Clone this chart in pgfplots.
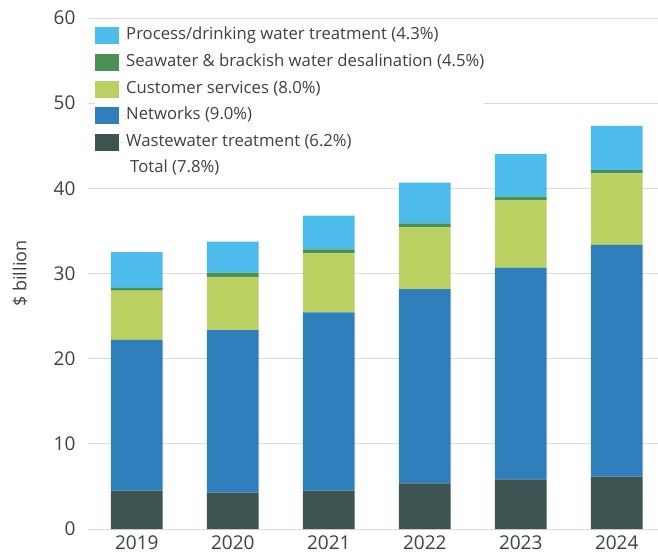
\documentclass[border=0pt]{standalone}
\usepackage{pgfplots}
\pgfplotsset{compat=1.18}
\usepackage{fontspec}
\setmainfont{Open Sans}
\definecolor{cproc}{HTML}{4DBBEB}
\definecolor{cdesal}{HTML}{4A9155}
\definecolor{ccust}{HTML}{BBD062}
\definecolor{cnet}{HTML}{2F7FBC}
\definecolor{cww}{HTML}{3E5452}
\definecolor{ctext}{HTML}{404040}
\definecolor{cgrid}{HTML}{DADADA}
\begin{document}
\begin{tikzpicture}
\begin{axis}[
  scale only axis,
  width=570pt, height=511pt,
  xmin=-0.508, xmax=5.43,
  ymin=0, ymax=60,
  ytick={0,10,20,30,40,50,60},
  xtick={0,1,2,3,4,5},
  xticklabels={2019,2020,2021,2022,2023,2024},
  ybar stacked, bar width=0.54,
  axis line style={draw=none},
  major tick length=0pt,
  ymajorgrids, grid style={cgrid, line width=0.8pt},
  /pgf/number format/assume math mode=true,
  ticklabel style={font=\fontsize{19}{22}\selectfont, text=ctext},
  yticklabel style={xshift=-9pt},
  xticklabel style={yshift=-3pt},
  ylabel={\$ billion},
  ylabel style={at={(rel axis cs:0,0.5)}, anchor=center, yshift=68pt, font=\fontsize{18}{22}\selectfont, text=ctext},
  reverse legend,
  legend cell align=left,
  legend style={at={(rel axis cs:0,1)}, anchor=north west, xshift=7pt, yshift=-9pt,
    draw=none, fill=white, inner sep=0pt, row sep=9.7pt,
    font=\fontsize{16.7}{20}\selectfont, text=ctext,
    nodes={inner sep=0pt, text height=12pt, text depth=4pt},
  },
  legend image code/.code={\fill[#1] (0pt,-8.5pt) rectangle (24pt,8.5pt); \path (24pt,0) -- (31pt,0);},
]
\addlegendimage{empty legend}
\addlegendentry{\hspace{4pt}Total (7.8\%)}
\addplot[fill=cww, draw=none] coordinates {(0,4.5) (1,4.26) (2,4.5) (3,5.36) (4,5.83) (5,6.14)};
\addlegendentry{Wastewater treatment (6.2\%)}
\addplot[fill=cnet, draw=none] coordinates {(0,17.7) (1,19.1) (2,20.94) (3,22.82) (4,24.85) (5,27.21)};
\addlegendentry{Networks (9.0\%)}
\addplot[fill=ccust, draw=none] coordinates {(0,5.8) (1,6.24) (2,6.93) (3,7.24) (4,7.91) (5,8.41)};
\addlegendentry{Customer services (8.0\%)}
\addplot[fill=cdesal, draw=none] coordinates {(0,0.3) (1,0.5) (2,0.47) (3,0.48) (4,0.43) (5,0.39)};
\addlegendentry{Seawater \& brackish water desalination (4.5\%)}
\addplot[fill=cproc, draw=none] coordinates {(0,4.2) (1,3.63) (2,3.96) (3,4.76) (4,5.01) (5,5.17)};
\addlegendentry{Process/drinking water treatment (4.3\%)}
\end{axis}
\pgfresetboundingbox
\path (current axis.south west) ++(-88pt,-25pt) rectangle ++(658pt,554pt);
\end{tikzpicture}
\end{document}
